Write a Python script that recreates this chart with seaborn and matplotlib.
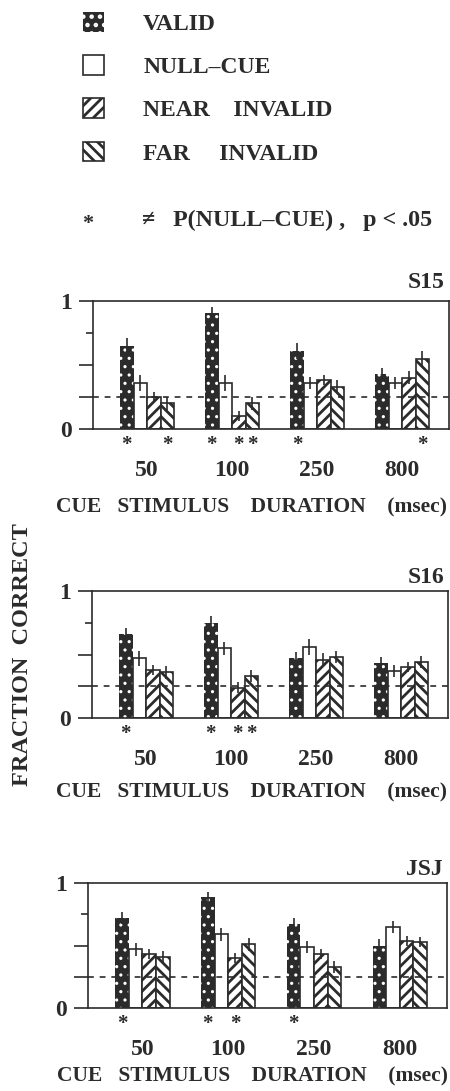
import matplotlib
matplotlib.use("Agg")
import matplotlib.pyplot as plt
from matplotlib.patches import Patch
import seaborn as sns
import pandas as pd

durations = ["50", "100", "250", "800"]
conditions = ["VALID", "NULL-CUE", "NEAR INVALID", "FAR INVALID"]
subjects = ["S15", "S16", "JSJ"]

# fraction correct, one row per cue duration: valid, null-cue, near, far
s15_vals = [[0.65, 0.36, 0.25, 0.20],
            [0.91, 0.36, 0.10, 0.20],
            [0.61, 0.36, 0.38, 0.33],
            [0.43, 0.36, 0.40, 0.55]]
s16_vals = [[0.66, 0.47, 0.38, 0.36],
            [0.75, 0.55, 0.24, 0.33],
            [0.47, 0.56, 0.46, 0.48],
            [0.43, 0.37, 0.40, 0.44]]
jsj_vals = [[0.72, 0.47, 0.43, 0.41],
            [0.89, 0.59, 0.40, 0.51],
            [0.67, 0.49, 0.43, 0.33],
            [0.50, 0.65, 0.54, 0.53]]

# standard errors
s15_err = [[0.06, 0.06, 0.04, 0.05],
           [0.04, 0.06, 0.04, 0.05],
           [0.06, 0.05, 0.04, 0.05],
           [0.05, 0.05, 0.05, 0.06]]
s16_err = [[0.05, 0.06, 0.04, 0.05],
           [0.05, 0.05, 0.04, 0.05],
           [0.05, 0.06, 0.05, 0.05],
           [0.05, 0.05, 0.04, 0.05]]
jsj_err = [[0.05, 0.05, 0.04, 0.05],
           [0.04, 0.05, 0.04, 0.05],
           [0.05, 0.05, 0.04, 0.05],
           [0.05, 0.05, 0.04, 0.04]]

# significantly different from null-cue (p < .05)
s15_sig = [[1, 0, 0, 1], [1, 0, 1, 1], [1, 0, 0, 0], [0, 0, 0, 1]]
s16_sig = [[1, 0, 0, 0], [1, 0, 1, 1], [0, 0, 0, 0], [0, 0, 0, 0]]
jsj_sig = [[1, 0, 0, 0], [1, 0, 1, 0], [1, 0, 0, 0], [0, 0, 0, 0]]

chance = 0.25

sns.set_theme(style="ticks")
plt.rcParams["font.family"] = ["Liberation Serif", "DejaVu Serif"]
plt.rcParams["font.weight"] = "bold"
plt.rcParams["axes.labelweight"] = "bold"
plt.rcParams["hatch.linewidth"] = 2.0

DARK = "#2b2b2b"
face = {"VALID": DARK, "NULL-CUE": "white", "NEAR INVALID": "white", "FAR INVALID": "white"}
hatches = {"VALID": "..", "NULL-CUE": "", "NEAR INVALID": "///", "FAR INVALID": "\\\\\\"}


def thin_dots(patch):
    # small white dots for the valid bars, if the matplotlib version allows it
    try:
        patch.set_hatch_linewidth(1.1)
    except AttributeError:
        pass


W, H = 450, 1091
fig = plt.figure(figsize=(W / 100, H / 100), dpi=100)

# axes boxes in pixels: left, top, right, bottom
boxes = [(93, 301, 449, 429), (92, 591, 448, 718), (88, 883, 447, 1008)]
title_gap = [13, 8, 8]
xlabel_gap = [68, 64, 58]

panels = zip(subjects, [s15_vals, s16_vals, jsj_vals], [s15_err, s16_err, jsj_err],
             [s15_sig, s16_sig, jsj_sig], boxes, title_gap, xlabel_gap)

for subj, vals, errs, sig, box, tg, xg in panels:
    l, t, r, b = box
    ax = fig.add_axes([l / W, 1 - b / H, (r - l) / W, (b - t) / H])

    rows = []
    for i, d in enumerate(durations):
        for j, c in enumerate(conditions):
            rows.append({"duration": d, "condition": c, "value": vals[i][j]})
    df = pd.DataFrame(rows)

    sns.barplot(data=df, x="duration", y="value", hue="condition",
                order=durations, hue_order=conditions, palette=face,
                width=0.635, errorbar=None, legend=False, saturation=1,
                edgecolor=DARK, linewidth=1.2, ax=ax, zorder=2)

    for j, (cont, c) in enumerate(zip(ax.containers, conditions)):
        xs, hs = [], []
        for i, bar in enumerate(cont):
            bar.set_hatch(hatches[c])
            if c == "VALID":
                bar.set_edgecolor("white")
                bar.set_linewidth(0)
                thin_dots(bar)
            xs.append(bar.get_x() + bar.get_width() / 2)
            hs.append(bar.get_height())
            if sig[i][j]:
                ax.text(xs[-1], -0.05, "*", ha="center", va="top",
                        fontsize=15, color=DARK, clip_on=False)
        ax.errorbar(xs, hs, yerr=[errs[i][j] for i in range(len(durations))],
                    fmt="none", ecolor=DARK, elinewidth=1.2, capsize=0, zorder=3)

    ax.axhline(chance, color=DARK, lw=1.2, ls=(0, (3.5, 3.5)), zorder=4)

    ax.set_xlim(-0.635, 3.55)
    ax.set_ylim(0, 1)
    ax.set_yticks([0, 0.25, 0.5, 1])
    ax.set_yticklabels(["0", "", "", "1"])
    ax.set_yticks([0.75], minor=True)
    ax.tick_params(axis="y", which="major", length=10, width=1.2, pad=5,
                   labelsize=17, color=DARK, labelcolor=DARK)
    ax.tick_params(axis="y", which="minor", length=5, width=1.2, color=DARK)
    ax.tick_params(axis="x", length=0, pad=22, labelsize=17, labelcolor=DARK)
    for s in ax.spines.values():
        s.set_visible(True)
        s.set_linewidth(1.2)
        s.set_color(DARK)

    ax.set_ylabel("")
    ax.set_xlabel("CUE   STIMULUS    DURATION    (msec)", fontsize=15.5,
                  fontweight="bold", color=DARK)
    ax.xaxis.set_label_coords((252 - l) / (r - l), -xg / (b - t))
    ax.text(1 - 4 / (r - l), 1 + tg / (b - t), subj, transform=ax.transAxes,
            ha="right", va="baseline", fontsize=17, color=DARK)

handles = []
for c in conditions:
    if c == "VALID":
        p = Patch(facecolor=DARK, edgecolor="white", hatch=hatches[c], linewidth=0)
        thin_dots(p)
    else:
        p = Patch(facecolor="white", edgecolor=DARK, hatch=hatches[c], linewidth=1.2)
    handles.append(p)
labels = ["VALID", "NULL–CUE", "NEAR    INVALID", "FAR     INVALID"]
fig.legend(handles, labels, loc="upper left", bbox_to_anchor=(83 / W, 1 - 12 / H),
           frameon=False, fontsize=17, handlelength=0.9, handleheight=0.9,
           handletextpad=1.65, labelspacing=0.86, borderpad=0, borderaxespad=0,
           labelcolor=DARK)

fig.text(88 / W, 1 - 224 / H, "*", ha="center", va="center", fontsize=16, color=DARK)
fig.text(142 / W, 1 - 220 / H, "≠   P(NULL–CUE) ,   p < .05", ha="left", va="center",
         fontsize=17.3, color=DARK)
fig.text(23 / W, 1 - 655 / H, "FRACTION  CORRECT", rotation=90, ha="center",
         va="center", fontsize=17.5, color=DARK)

fig.savefig("out.png", dpi=100)
